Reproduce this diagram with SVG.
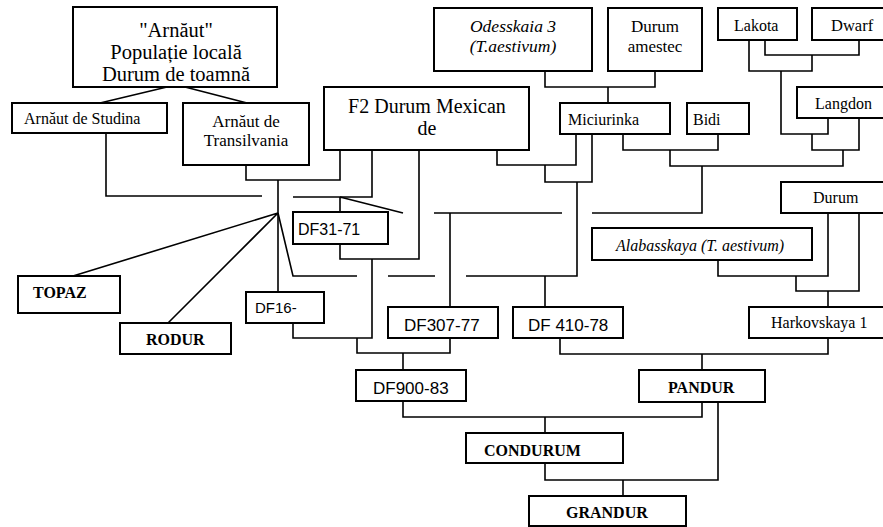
<svg xmlns="http://www.w3.org/2000/svg" width="883" height="527" viewBox="0 0 883 527">
<style>
.box{fill:#fff;stroke:#000;stroke-width:2}
.ln{fill:none;stroke:#000;stroke-width:1.6}
.t{font-family:"Liberation Serif","Times New Roman",serif;fill:#000}
.ti{font-family:"Liberation Serif","Times New Roman",serif;font-style:italic;fill:#000}
.tb{font-family:"Liberation Serif","Times New Roman",serif;font-weight:bold;font-size:16px;fill:#000}
.ts{font-family:"Liberation Sans",Arial,sans-serif;fill:#000}
</style>
<rect width="883" height="527" fill="#fff"/>
<g id="connectors" class="ln">
<path d="M167,87 L100,103 M185,87 L247,103"/>
<path d="M106,133 V196 H262"/>
<path d="M246,165 V180 H340 V150"/>
<path d="M278,180 V292"/>
<path d="M372,150 V197 H293"/>
<path d="M340,197 V212 M340,197 L403,213"/>
<path d="M278,213 L73,276 M278,213 L168,323 M278,213 L293,276 H357"/>
<path d="M388,276 H435 M466,276 H577 V182"/>
<path d="M434,213 H562 M592,213 H702 V166"/>
<path d="M450,213 V307 M545,276 V307"/>
<path d="M340,244 V259 H419 V150"/>
<path d="M372,259 V338 H293 V323"/>
<path d="M357,338 V353 H450 V338 M403,353 V370"/>
<path d="M497,150 V165 H576 V134 M545,165 V182 H592 V134"/>
<path d="M545,71 V87 H655 V71 M608,87 V103"/>
<path d="M765,40 V55 H859 V40 M749,40 V71 H812 V55"/>
<path d="M781,71 V134 H828 V118 M812,134 V150 H859 V118 M843,150 V166 H670 V150"/>
<path d="M623,134 V150 H718 V134"/>
<path d="M718,260 V276 H828 V213 M796,276 V291 H859 V213 M828,291 V307"/>
<path d="M560,338 V354 H828 V338 M702,354 V370"/>
<path d="M403,401 V417 H702 V402 M545,417 V433"/>
<path d="M545,463 V480 H718 V402 M623,480 V496"/>
</g>
<g id="arnaut">
<rect class="box" x="73" y="7" width="204" height="80"/>
<text class="t" font-size="20.5" text-anchor="middle"><tspan x="176" y="37">"Arnăut"</tspan><tspan x="176" y="59">Populație locală</tspan><tspan x="176" y="81">Durum de toamnă</tspan></text>
</g>
<g id="studina">
<rect class="box" x="12" y="103" width="155" height="30"/>
<text class="t" font-size="16" x="24" y="124">Arnăut de Studina</text>
</g>
<g id="transilvania">
<rect class="box" x="183" y="103" width="126" height="62"/>
<text class="t" font-size="17" text-anchor="middle"><tspan x="246" y="127">Arnăut de</tspan><tspan x="246" y="146">Transilvania</tspan></text>
</g>
<g id="f2">
<rect class="box" x="324" y="87" width="205" height="63"/>
<text class="t" font-size="20" text-anchor="middle"><tspan x="427" y="113">F2 Durum Mexican</tspan><tspan x="427" y="135">de</tspan></text>
</g>
<g id="odesskaia">
<rect class="box" x="434" y="8" width="158" height="63"/>
<text class="ti" font-size="17.5" text-anchor="middle"><tspan x="513" y="32">Odesskaia 3</tspan><tspan x="513" y="52">(T.aestivum)</tspan></text>
</g>
<g id="durum-amestec">
<rect class="box" x="608" y="8" width="94" height="63"/>
<text class="t" font-size="17" text-anchor="middle"><tspan x="655" y="32">Durum</tspan><tspan x="655" y="52">amestec</tspan></text>
</g>
<g id="lakota">
<rect class="box" x="718" y="8" width="79" height="32"/>
<text class="t" font-size="16" x="734" y="31">Lakota</text>
</g>
<g id="dwarf">
<rect class="box" x="812" y="8" width="73" height="32"/>
<text class="t" font-size="16.5" x="831" y="31">Dwarf</text>
</g>
<g id="langdon">
<rect class="box" x="797" y="87" width="88" height="31"/>
<text class="t" font-size="16" x="815" y="109">Langdon</text>
</g>
<g id="miciurinka">
<rect class="box" x="560" y="103" width="110" height="31"/>
<text class="t" font-size="16" x="568" y="125">Miciurinka</text>
</g>
<g id="bidi">
<rect class="box" x="687" y="103" width="62" height="31"/>
<text class="t" font-size="16" x="693" y="125">Bidi</text>
</g>
<g id="durum">
<rect class="box" x="781" y="182" width="104" height="31"/>
<text class="t" font-size="16" x="813" y="203">Durum</text>
</g>
<g id="alabasskaya">
<rect class="box" x="592" y="228" width="220" height="32"/>
<text class="ti" font-size="16" x="616" y="251">Alabasskaya (T. aestivum)</text>
</g>
<g id="harkovskaya">
<rect class="box" x="749" y="307" width="136" height="31"/>
<text class="t" font-size="16" x="771" y="328">Harkovskaya 1</text>
</g>
<g id="df31-71">
<rect class="box" x="293" y="212" width="95" height="32"/>
<text class="ts" font-size="16" x="298" y="235">DF31-71</text>
</g>
<g id="df16">
<rect class="box" x="246" y="292" width="78" height="31"/>
<text class="ts" font-size="15" x="255" y="313">DF16-</text>
</g>
<g id="df307-77">
<rect class="box" x="388" y="307" width="110" height="31"/>
<text class="ts" font-size="17" x="404" y="331">DF307-77</text>
</g>
<g id="df410-78">
<rect class="box" x="513" y="307" width="110" height="31"/>
<text class="ts" font-size="17" x="528" y="331">DF 410-78</text>
</g>
<g id="topaz">
<rect class="box" x="18" y="276" width="102" height="37"/>
<text class="tb" x="33" y="298">TOPAZ</text>
</g>
<g id="rodur">
<rect class="box" x="120" y="323" width="111" height="31"/>
<text class="tb" x="146" y="345">RODUR</text>
</g>
<g id="df900-83">
<rect class="box" x="356" y="370" width="110" height="31"/>
<text class="ts" font-size="17" x="373" y="394">DF900-83</text>
</g>
<g id="pandur">
<rect class="box" x="639" y="370" width="126" height="32"/>
<text class="tb" x="668" y="393">PANDUR</text>
</g>
<g id="condurum">
<rect class="box" x="466" y="433" width="157" height="30"/>
<text class="tb" x="484" y="456">CONDURUM</text>
</g>
<g id="grandur">
<rect class="box" x="529" y="496" width="157" height="30"/>
<text class="tb" x="566" y="518">GRANDUR</text>
</g>
</svg>
